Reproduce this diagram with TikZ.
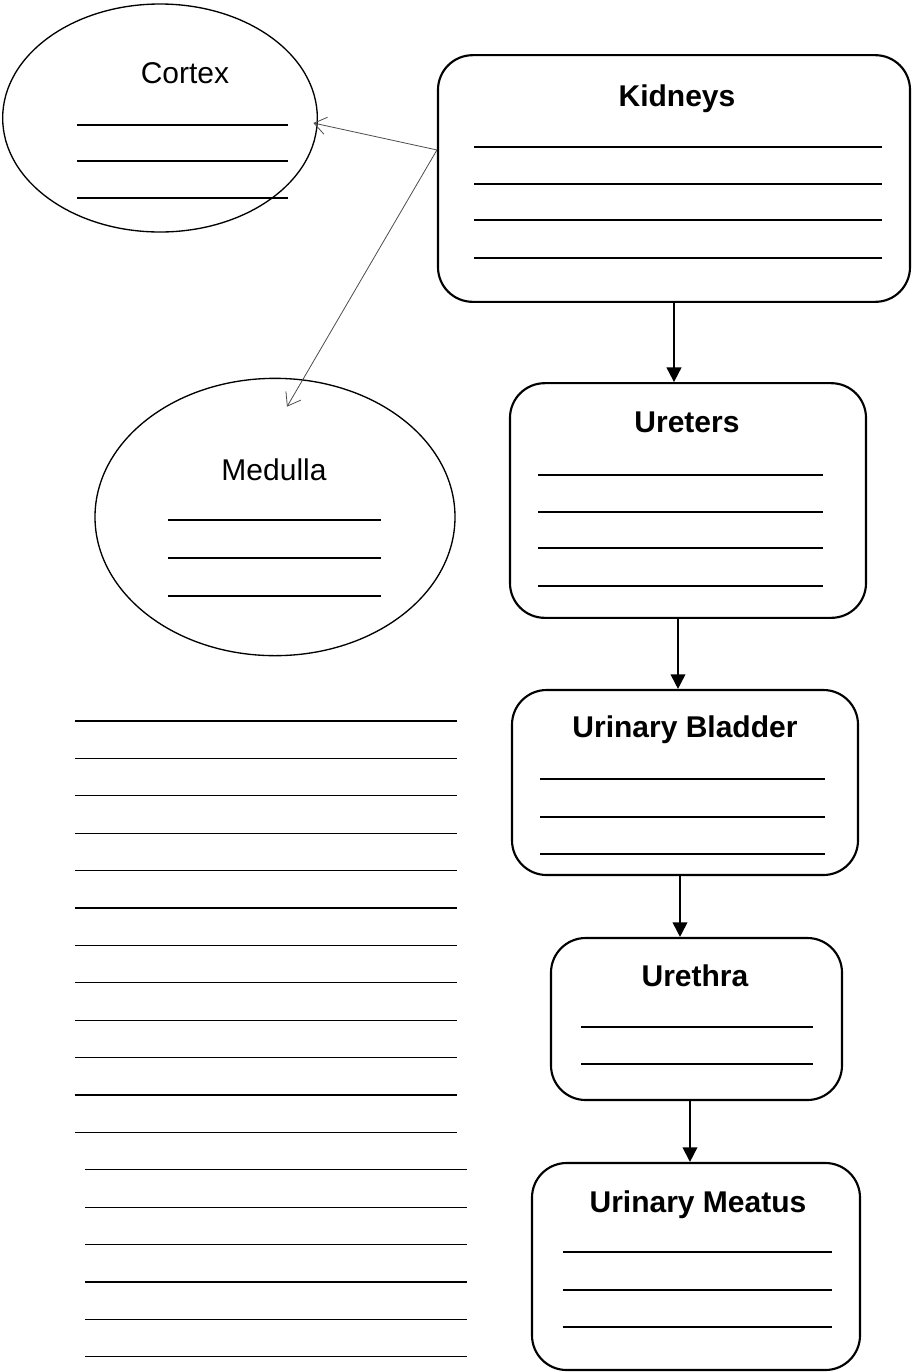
\documentclass[tikz,border=0pt]{standalone}
\usepackage{fontspec}
\setmainfont{Liberation Sans}
\usetikzlibrary{shapes.geometric,arrows.meta}
\begin{document}
\begin{tikzpicture}[x=0.75pt,y=-0.75pt,
  boxnode/.style={draw,line width=1.6pt,rounded corners=26pt,inner sep=0pt},
  ovalnode/.style={draw,ellipse,line width=1pt,inner sep=0pt},
  titletext/.style={font=\fontsize{22.5}{26}\selectfont\bfseries,anchor=base,inner sep=0pt},
  plaintext/.style={font=\fontsize{22.5}{26}\selectfont,anchor=base,inner sep=0pt},
  wline/.style={line width=1pt},
  flow/.style={line width=1.4pt,-{Triangle[length=11pt,width=11pt]}},
  thin/.style={draw=black!70,line width=0.6pt,-{Straight Barb[length=9pt,width=13pt]}}]
\useasboundingbox (0,0) rectangle (912,1372);
% ellipses
\node[ovalnode,minimum width=236pt,minimum height=171pt] (cor) at (160,118) {};
\node[plaintext] (cort) at (185,83) {Cortex};
\foreach \y in {125,161,198} \draw[wline] (77,\y) -- (288,\y);
\node[ovalnode,minimum width=270pt,minimum height=208pt] (med) at (275,517) {};
\node[plaintext] (medt) at (274,480) {Medulla};
\foreach \y in {520,558,596} \draw[wline] (168,\y) -- (381,\y);
% boxes
\node[boxnode,minimum width=354pt,minimum height=185pt] (kid) at (674,178.5) {};
\node[titletext] (kidt) at (677,106) {Kidneys};
\foreach \y in {147,184,220,258} \draw[wline] (474,\y) -- (882,\y);
\node[boxnode,minimum width=267pt,minimum height=176pt] (ure) at (688,500.5) {};
\node[titletext] (uret) at (687,432) {Ureters};
\foreach \y in {475,512,548,586} \draw[wline] (538,\y) -- (823,\y);
\node[boxnode,minimum width=259.5pt,minimum height=138.75pt] (bla) at (685,782.5) {};
\node[titletext] (blat) at (685,737) {Urinary Bladder};
\foreach \y in {779,817,854} \draw[wline] (540,\y) -- (825,\y);
\node[boxnode,minimum width=218.25pt,minimum height=121.5pt] (urh) at (696.5,1019) {};
\node[titletext] (urht) at (695,986) {Urethra};
\foreach \y in {1027,1064} \draw[wline] (581,\y) -- (813,\y);
\node[boxnode,minimum width=246pt,minimum height=155.25pt] (mea) at (696,1266.5) {};
\node[titletext] (meat) at (698,1212) {Urinary Meatus};
\foreach \y in {1252,1290,1327} \draw[wline] (563,\y) -- (832,\y);
% left lines
\foreach \i in {0,...,11} \draw[wline] (75,721+37.4*\i) -- (457,721+37.4*\i);
\foreach \i in {12,...,17} \draw[wline] (85,721+37.4*\i) -- (467,721+37.4*\i);
% flow arrows
\draw[flow] (kid.south) -- (kid.south |- ure.north);
\draw[flow] ([xshift=-7.5pt]ure.south) -- ([xshift=-7.5pt]ure.south |- bla.north);
\draw[flow] ([xshift=-3.75pt]bla.south) -- ([xshift=-3.75pt]bla.south |- urh.north);
\draw[flow] ([xshift=-4.9pt]urh.south) -- ([xshift=-4.9pt]urh.south |- mea.north);
% thin arrows
\coordinate (src) at ([yshift=21.4pt]kid.west);
\draw[thin] (src) -- ([xshift=-3.5pt,yshift=-3.75pt]cor.east);
\draw[thin] (src) -- ([xshift=9pt,yshift=-21.75pt]med.north);
\end{tikzpicture}
\end{document}
